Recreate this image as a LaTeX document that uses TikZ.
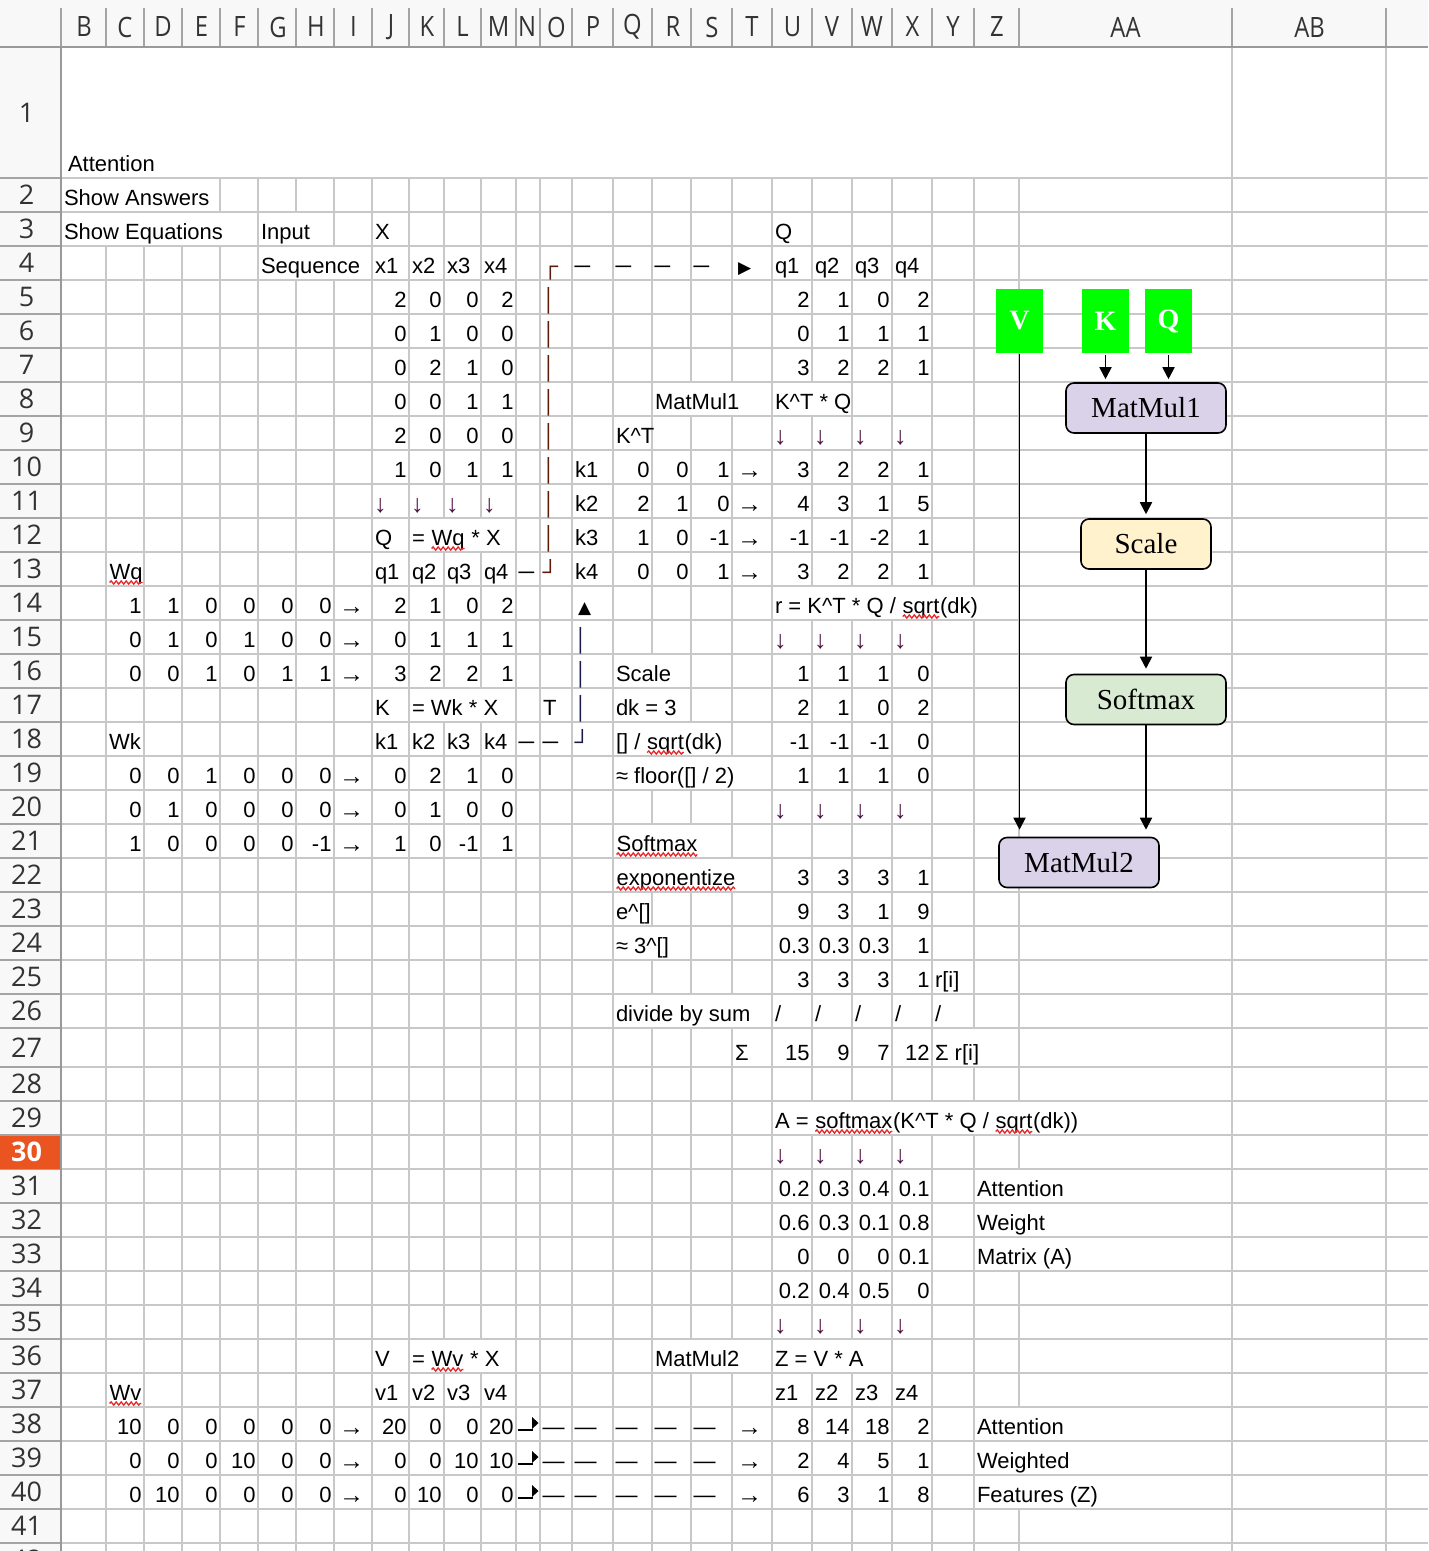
\documentclass[tikz,border=0pt]{standalone}
\usepackage{fontspec}
\setmainfont{Liberation Sans}
\newfontfamily\seriff{Liberation Serif}
\newfontfamily\djv{DejaVu Sans}
\newfontfamily\hdrf[FakeStretch=0.85]{Open Sans}
\newfontfamily\rowf{Open Sans}
\usetikzlibrary{arrows.meta,decorations.pathmorphing}

\definecolor{gridc}{HTML}{C8C8C8}
\definecolor{hdrline}{HTML}{A4A4A4}
\definecolor{hdrdark}{HTML}{999999}
\definecolor{hdrbg}{HTML}{F8F8F8}
\definecolor{hdrtxt}{HTML}{333333}
\definecolor{selrow}{HTML}{E95420}
\definecolor{barc}{HTML}{5C1A08}
\definecolor{barb}{HTML}{1A1A4A}
\definecolor{dnarr}{HTML}{4A1040}
\definecolor{boxgreen}{HTML}{00FF00}
\definecolor{lav}{HTML}{D9D2E9}
\definecolor{lyel}{HTML}{FFF2CC}
\definecolor{lgrn}{HTML}{D9EAD3}
\definecolor{splred}{HTML}{E8262A}

\newcommand\defcol[3]{\expandafter\def\csname cL#1\endcsname{#2}\expandafter\def\csname cR#1\endcsname{#3}}
\defcol{B}{61}{106}\defcol{C}{106}{144}\defcol{D}{144}{182}\defcol{E}{182}{220}
\defcol{F}{220}{258}\defcol{G}{258}{296}\defcol{H}{296}{334}\defcol{I}{334}{372}
\defcol{J}{372}{409}\defcol{K}{409}{444}\defcol{L}{444}{481}\defcol{M}{481}{516}
\defcol{N}{516}{540}\defcol{O}{540}{572}\defcol{P}{572}{613}\defcol{Q}{613}{652}
\defcol{R}{652}{691}\defcol{S}{691}{732}\defcol{T}{732}{772}\defcol{U}{772}{812}
\defcol{V}{812}{852}\defcol{W}{852}{892}\defcol{X}{892}{932}\defcol{Y}{932}{974}
\defcol{Z}{974}{1019}\defcol{AA}{1019}{1232}\defcol{AB}{1232}{1386}

\newcommand\rowtb[1]{%
  \ifnum#1=1\relax \def\ytop{47}\def\ybot{178}%
  \else\ifnum#1<27\relax \pgfmathsetmacro\ybot{178+(#1-1)*34}\pgfmathsetmacro\ytop{\ybot-34}%
  \else\ifnum#1=27\relax \def\ytop{1028}\def\ybot{1067}%
  \else \pgfmathsetmacro\ybot{1067+(#1-27)*34}\pgfmathsetmacro\ytop{\ybot-34}\fi\fi\fi
  \pgfmathsetmacro\yb{\ybot-7}}

\tikzset{
  cellL/.style={anchor=base west,inner sep=0pt,outer sep=0pt,font=\fontsize{22}{26}\selectfont},
  cellR/.style={anchor=base east,inner sep=0pt,outer sep=0pt,font=\fontsize{22}{26}\selectfont},
  splw/.style={splred,line width=1.3pt,decorate,decoration={snake,amplitude=1.6pt,segment length=5pt}},
  gridl/.style={gridc,line width=1.5pt},
  hdrl/.style={hdrline,line width=1.5pt},
  hdrlab/.style={font=\hdrf\fontsize{28}{30}\selectfont,text=hdrtxt,inner sep=0pt},
  rowlab/.style={font=\rowf\fontsize{27}{30}\selectfont,text=hdrtxt,inner sep=0pt},
  inbox/.style={fill=boxgreen,draw=none,minimum width=47pt,minimum height=64pt,inner sep=0pt,text=white,font=\seriff\bfseries\fontsize{28}{30}\selectfont},
  opbox/.style={draw=black,line width=1.6pt,rounded corners=8pt,minimum height=50pt,inner sep=0pt,font=\seriff\fontsize{29}{32}\selectfont},
  flow/.style={line width=1.8pt,-{Triangle[width=12pt,length=12pt]}}
}

\newcommand\spl[1]{\tikz[baseline=(sw.base)]{\node[inner sep=0pt,outer sep=0pt,anchor=base] (sw) at (0,0) {#1};\draw[splw] ([yshift=-3.5pt]sw.base west) -- ([yshift=-3.5pt]sw.base east);}}
\newcommand\TL[3]{\rowtb{#2}\node[cellL] (#1#2) at ({\csname cL#1\endcsname+3},{\yb}) {#3};}
\newcommand\TR[3]{\rowtb{#2}\node[cellR] (#1#2) at ({\csname cR#1\endcsname-2.5},{\yb}) {#3};}
\newcommand\NUMS[2]{\foreach \cc/\vv in {#2}{\TR{\cc}{#1}{\vv}}}
\newcommand\SYM[4]{\rowtb{#2}\node[cellL,text=#3] (#1#2) at ({\csname cL#1\endcsname+2.5},{\yb}) {#4};}
\newcommand\TRI[3]{\rowtb{#2}\node[cellL,font=\djv\fontsize{17}{20}\selectfont] (#1#2) at ({\csname cL#1\endcsname+6},{\yb}) {#3};}
\newcommand\RA[2]{\rowtb{#2}\node[cellL,font=\fontsize{25}{28}\selectfont] (#1#2) at ({\csname cL#1\endcsname+5},{\yb+1}) {→};}
\newcommand\DN[2]{\rowtb{#2}\node[cellL,font=\fontsize{25}{28}\selectfont,text=dnarr] (#1#2) at ({\csname cL#1\endcsname+2},{\yb+1}) {↓};}
\newcommand\HIDE[3]{\rowtb{#3}\fill[white] ({\csname cL#1\endcsname+1},{\ytop+1}) rectangle ({\csname cR#2\endcsname-1},{\ybot-1});}
\newcommand\HOOK[1]{\rowtb{#1}\draw[line width=1.6pt] (518,{\yb-4}) -- (533,{\yb-4});\fill (532,{\yb-17}) -- (532,{\yb-5}) -- (538.5,{\yb-11}) -- cycle;}

\begin{document}
\begin{tikzpicture}[x=1pt,y=-1pt]
\useasboundingbox (0,0) rectangle (1428,1551);
\clip (0,0) rectangle (1428,1551);
\fill[white] (0,0) rectangle (1428,1551);
\fill[hdrbg] (0,0) rectangle (1428,47);
\fill[hdrbg] (0,47) rectangle (61,1551);

% grid
\foreach \y in {178,212,246,280,314,348,382,416,450,484,518,552,586,620,654,688,722,756,790,824,858,892,926,960,994,1028,1067,1101,1135,1169,1203,1237,1271,1305,1339,1373,1407,1441,1475,1509,1543}{
  \draw[gridl] (61,\y) -- (1428,\y);
  \draw[hdrl] (0,\y) -- (61,\y);
}
\foreach \x in {106,144,182,220,258,296,334,372,409,444,481,516,540,572,613,652,691,732,772,812,852,892,932,974,1019,1232,1386}{
  \draw[gridl] (\x,47) -- (\x,1551);
}

% hidden gridlines under overflowing text
\HIDE{B}{AA}{1}
\HIDE{B}{E}{2}
\HIDE{B}{F}{3}\HIDE{G}{H}{3}
\HIDE{G}{I}{4}
\HIDE{R}{T}{8}\HIDE{U}{V}{8}
\HIDE{K}{M}{12}
\HIDE{U}{Z}{14}
\HIDE{Q}{R}{16}
\HIDE{K}{M}{17}\HIDE{Q}{R}{17}
\HIDE{Q}{S}{18}
\HIDE{Q}{T}{19}
\HIDE{Q}{S}{21}
\HIDE{Q}{T}{22}
\HIDE{Q}{R}{24}
\HIDE{Q}{T}{26}
\HIDE{Y}{Z}{27}
\HIDE{U}{AA}{29}
\HIDE{Z}{AA}{31}\HIDE{Z}{AA}{32}\HIDE{Z}{AA}{33}
\HIDE{K}{M}{36}\HIDE{R}{T}{36}\HIDE{U}{W}{36}
\HIDE{Z}{AA}{38}\HIDE{Z}{AA}{39}\HIDE{Z}{AA}{40}

% headers
\foreach \x in {61,106,144,182,220,258,296,334,372,409,444,481,516,540,572,613,652,691,732,772,812,852,892,932,974,1019,1232,1386}{
  \draw[hdrl] (\x,8) -- (\x,47);
}
\draw[hdrdark,line width=2.2pt] (0,47) -- (1428,47);
\draw[hdrdark,line width=2.2pt] (61,47) -- (61,1551);
\foreach \cc/\x in {B/84,C/125,D/163,E/201.5,F/239.5,G/278,H/316,I/353.5,J/391,K/427,L/462.5,M/498.5,N/527,O/556.5,P/593,Q/632.5,R/673,S/712,T/752,U/792.5,V/832,W/872,X/912.5,Y/953,Z/997,AA/1125.5,AB/1309.5}{
  \node[hdrlab] (h\cc) at (\x,27) {\cc};
}
\fill[selrow] (0,1136) rectangle (60,1169);
\node[rowlab] (r1) at (26.5,112.5) {1};
\foreach \r in {2,...,26}{
  \pgfmathsetmacro\yc{195+(\r-2)*34}
  \node[rowlab] (r\r) at (26.5,\yc) {\r};
}
\node[rowlab] (r27) at (26.5,1047.5) {27};
\foreach \r in {28,29,31,32,33,34,35,36,37,38,39,40,41,42}{
  \pgfmathsetmacro\yc{1084+(\r-28)*34}
  \node[rowlab] (r\r) at (26.5,\yc) {\r};
}
\node[rowlab,text=white,font=\rowf\bfseries\fontsize{27}{30}\selectfont] (r30) at (26.5,1152) {30};

% cell contents
\node[cellL] (B1) at (68,171) {Attention};
\TL{B}{2}{Show Answers}
\TL{B}{3}{Show Equations}\TL{G}{3}{Input}\TL{J}{3}{X}\TL{U}{3}{Q}
\TL{G}{4}{Sequence}\TL{J}{4}{x1}\TL{K}{4}{x2}\TL{L}{4}{x3}\TL{M}{4}{x4}
\SYM{O}{4}{barc}{┌}
\foreach \cc in {P,Q,R,S}{\SYM{\cc}{4}{black}{─}}
\TRI{T}{4}{▶}
\TL{U}{4}{q1}\TL{V}{4}{q2}\TL{W}{4}{q3}\TL{X}{4}{q4}
\foreach \r in {5,...,12}{\SYM{O}{\r}{barc}{│}}
\NUMS{5}{J/2,K/0,L/0,M/2,U/2,V/1,W/0,X/2}
\NUMS{6}{J/0,K/1,L/0,M/0,U/0,V/1,W/1,X/1}
\NUMS{7}{J/0,K/2,L/1,M/0,U/3,V/2,W/2,X/1}
\NUMS{8}{J/0,K/0,L/1,M/1}
\TL{R}{8}{MatMul1}\TL{U}{8}{K\textasciicircum T * Q}
\NUMS{9}{J/2,K/0,L/0,M/0}
\TL{Q}{9}{K\textasciicircum T}
\foreach \cc in {U,V,W,X}{\DN{\cc}{9}}
\NUMS{10}{J/1,K/0,L/1,M/1,Q/0,R/0,S/1,U/3,V/2,W/2,X/1}
\TL{P}{10}{k1}\RA{T}{10}
\foreach \cc in {J,K,L,M}{\DN{\cc}{11}}
\TL{P}{11}{k2}\NUMS{11}{Q/2,R/1,S/0,U/4,V/3,W/1,X/5}\RA{T}{11}
\TL{J}{12}{Q}\TL{K}{12}{= \spl{Wq} * X}
\TL{P}{12}{k3}\NUMS{12}{Q/1,R/0,S/-1,U/-1,V/-1,W/-2,X/1}\RA{T}{12}
\TL{C}{13}{\spl{Wq}}
\TL{J}{13}{q1}\TL{K}{13}{q2}\TL{L}{13}{q3}\TL{M}{13}{q4}
\SYM{N}{13}{black}{─}\SYM{O}{13}{barc}{┘}
\TL{P}{13}{k4}\NUMS{13}{Q/0,R/0,S/1,U/3,V/2,W/2,X/1}\RA{T}{13}
\NUMS{14}{C/1,D/1,E/0,F/0,G/0,H/0,J/2,K/1,L/0,M/2}\RA{I}{14}
\TRI{P}{14}{▲}
\TL{U}{14}{r = K\textasciicircum T * Q / \spl{sqrt}(dk)}
\NUMS{15}{C/0,D/1,E/0,F/1,G/0,H/0,J/0,K/1,L/1,M/1}\RA{I}{15}
\foreach \r in {15,16,17}{\SYM{P}{\r}{barb}{│}}
\foreach \cc in {U,V,W,X}{\DN{\cc}{15}}
\NUMS{16}{C/0,D/0,E/1,F/0,G/1,H/1,J/3,K/2,L/2,M/1,U/1,V/1,W/1,X/0}\RA{I}{16}
\TL{Q}{16}{Scale}
\TL{J}{17}{K}\TL{K}{17}{= Wk * X}\TL{O}{17}{T}\TL{Q}{17}{dk = 3}
\NUMS{17}{U/2,V/1,W/0,X/2}
\TL{C}{18}{Wk}
\TL{J}{18}{k1}\TL{K}{18}{k2}\TL{L}{18}{k3}\TL{M}{18}{k4}
\SYM{N}{18}{black}{─}\SYM{O}{18}{black}{─}\SYM{P}{18}{barb}{┘}
\TL{Q}{18}{[] / \spl{sqrt}(dk)}
\NUMS{18}{U/-1,V/-1,W/-1,X/0}
\NUMS{19}{C/0,D/0,E/1,F/0,G/0,H/0,J/0,K/2,L/1,M/0,U/1,V/1,W/1,X/0}\RA{I}{19}
\TL{Q}{19}{≈ floor([] / 2)}
\NUMS{20}{C/0,D/1,E/0,F/0,G/0,H/0,J/0,K/1,L/0,M/0}\RA{I}{20}
\foreach \cc in {U,V,W,X}{\DN{\cc}{20}}
\NUMS{21}{C/1,D/0,E/0,F/0,G/0,H/-1,J/1,K/0,L/-1,M/1}\RA{I}{21}
\TL{Q}{21}{\spl{Softmax}}
\TL{Q}{22}{\spl{exponentize}}\NUMS{22}{U/3,V/3,W/3,X/1}
\TL{Q}{23}{e\textasciicircum[]}\NUMS{23}{U/9,V/3,W/1,X/9}
\TL{Q}{24}{≈ 3\textasciicircum[]}\NUMS{24}{U/0.3,V/0.3,W/0.3,X/1}
\NUMS{25}{U/3,V/3,W/3,X/1}\TL{Y}{25}{r[i]}
\TL{Q}{26}{divide by sum}
\foreach \cc in {U,V,W,X,Y}{\TL{\cc}{26}{/}}
\TL{T}{27}{Σ}\NUMS{27}{U/15,V/9,W/7,X/12}\TL{Y}{27}{Σ r[i]}
\TL{U}{29}{A = \spl{softmax}(K\textasciicircum T * Q / \spl{sqrt}(dk))}
\foreach \cc in {U,V,W,X}{\DN{\cc}{30}}
\NUMS{31}{U/0.2,V/0.3,W/0.4,X/0.1}\TL{Z}{31}{Attention}
\NUMS{32}{U/0.6,V/0.3,W/0.1,X/0.8}\TL{Z}{32}{Weight}
\NUMS{33}{U/0,V/0,W/0,X/0.1}\TL{Z}{33}{Matrix (A)}
\NUMS{34}{U/0.2,V/0.4,W/0.5,X/0}
\foreach \cc in {U,V,W,X}{\DN{\cc}{35}}
\TL{J}{36}{V}\TL{K}{36}{= \spl{Wv} * X}\TL{R}{36}{MatMul2}\TL{U}{36}{Z = V * A}
\TL{C}{37}{\spl{Wv}}
\TL{J}{37}{v1}\TL{K}{37}{v2}\TL{L}{37}{v3}\TL{M}{37}{v4}
\TL{U}{37}{z1}\TL{V}{37}{z2}\TL{W}{37}{z3}\TL{X}{37}{z4}
\NUMS{38}{C/10,D/0,E/0,F/0,G/0,H/0,J/20,K/0,L/0,M/20,U/8,V/14,W/18,X/2}
\NUMS{39}{C/0,D/0,E/0,F/10,G/0,H/0,J/0,K/0,L/10,M/10,U/2,V/4,W/5,X/1}
\NUMS{40}{C/0,D/10,E/0,F/0,G/0,H/0,J/0,K/10,L/0,M/0,U/6,V/3,W/1,X/8}
\foreach \r in {38,39,40}{
  \RA{I}{\r}\HOOK{\r}
  \foreach \cc in {O,P,Q,R,S}{\SYM{\cc}{\r}{black}{—}}
  \RA{T}{\r}
}
\TL{Z}{38}{Attention}\TL{Z}{39}{Weighted}\TL{Z}{40}{Features (Z)}

% flowchart
\node[inbox] (Vb) at (1019.5,321) {V};
\node[inbox] (Kb) at (1105.5,321) {K};
\node[inbox] (Qb) at (1168.5,321) {Q};
\node[opbox,fill=lav,minimum width=160pt] (mm1) at (1146,408) {MatMul1};
\node[opbox,fill=lyel,minimum width=130pt] (scl) at (1146,544) {Scale};
\node[opbox,fill=lgrn,minimum width=160pt] (smx) at (1146,699.5) {Softmax};
\node[opbox,fill=lav,minimum width=160pt] (mm2) at (1079,862.5) {MatMul2};
\draw[flow,shorten <=2pt,shorten >=3pt] (Kb.south) -- (Kb.south |- mm1.north);
\draw[flow,shorten <=2pt,shorten >=3pt] (Qb.south) -- (Qb.south |- mm1.north);
\draw[flow,shorten >=4pt] (mm1.south) -- (scl.north);
\draw[flow,shorten >=5pt] (scl.south) -- (smx.north);
\draw[flow,shorten >=7pt] (smx.south) -- (smx.south |- mm2.north);
\draw[flow,shorten <=1pt,shorten >=7pt] (Vb.south) -- (Vb.south |- mm2.north);
\end{tikzpicture}
\end{document}
